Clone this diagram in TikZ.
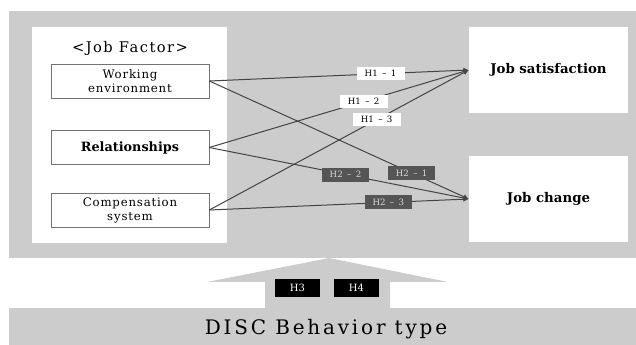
\documentclass[tikz,border=0pt]{standalone}
\usepackage{fontspec}
\setmainfont{DejaVu Serif}
\usetikzlibrary{arrows.meta}
\definecolor{panel}{HTML}{CCCCCC}
\definecolor{hdark}{HTML}{555555}
\definecolor{edge}{HTML}{444444}
\newcommand{\hdash}{\enspace--\enspace}
\begin{document}
\begin{tikzpicture}[x=0.75pt,y=-0.75pt,
  factor/.style={draw=black!55,line width=0.5pt,fill=white,minimum width=118.5pt,minimum height=25.5pt,inner sep=1pt,align=center,font=\fontsize{8.8}{10.5}\selectfont\addfontfeature{LetterSpace=7}},
  outcome/.style={fill=white,minimum width=119.25pt,minimum height=64.5pt,inner sep=1pt,font=\fontsize{10}{12}\selectfont\bfseries},
  hwhite/.style={fill=white,minimum width=36pt,minimum height=10pt,inner sep=0pt,font=\fontsize{6.5}{7}\selectfont},
  hgray/.style={fill=hdark,text=white!85!black,minimum width=35pt,minimum height=10.5pt,inner sep=0pt,font=\fontsize{6.5}{7}\selectfont},
  hblack/.style={fill=black,text=white,minimum width=34pt,minimum height=13pt,inner sep=0pt,font=\fontsize{7.5}{8}\selectfont},
  link/.style={draw=edge,line width=0.75pt,-{Latex[length=4pt,width=4pt]}}]
\useasboundingbox (0,0) rectangle (636,345);
% panels
\fill[panel] (9,11) rectangle (636,258);
\fill[panel] (9,308) rectangle (636,345);
\fill[panel] (265,308) -- (265,282) -- (207,282) -- (329,258) -- (448,282) -- (390,282) -- (390,308) -- cycle;
% left white container
\node[fill=white,minimum width=146.25pt,minimum height=162pt,inner sep=0pt] (jf) at (129.5,135) {};
\node[font=\fontsize{11}{13}\selectfont\addfontfeature{LetterSpace=10}] (jft) at (130,48) {<Job Factor>};
\node[factor] (we) at (130,81) {Working\\environment};
\node[factor,font=\fontsize{9.6}{11}\selectfont\bfseries] (rel) at (130,147.5) {Relationships};
\node[factor] (comp) at (130,210) {Compensation\\system};
% outcomes
\node[outcome] (js) at (548.5,70) {Job satisfaction};
\node[outcome] (jc) at (548.5,199) {Job change};
% links
\draw[link] (we.east) -- node[hwhite,pos=0.66] (h11) {H1\hdash1} (js.west);
\draw[link] (rel.east) -- node[hwhite,pos=0.595] (h12) {H1\hdash2} (js.west);
\draw[link] (comp.east) -- node[hwhite,pos=0.645] (h13) {H1\hdash3} (js.west);
\draw[link] (we.east) -- node[hgray,pos=0.78] (h21) {H2\hdash1} (jc.west);
\draw[link] (rel.east) -- node[hgray,pos=0.525] (h22) {H2\hdash2} (jc.west);
\draw[link] (comp.east) -- node[hgray,pos=0.69] (h23) {H2\hdash3} (jc.west);
% bottom
\node[hblack] (h3) at (297.5,288) {H3};
\node[hblack] (h4) at (356.5,288) {H4};
\node[font=\fontsize{15}{18}\selectfont\addfontfeature{LetterSpace=14}] (disc) at (326,329) {DISC Behavior type};
\end{tikzpicture}
\end{document}
